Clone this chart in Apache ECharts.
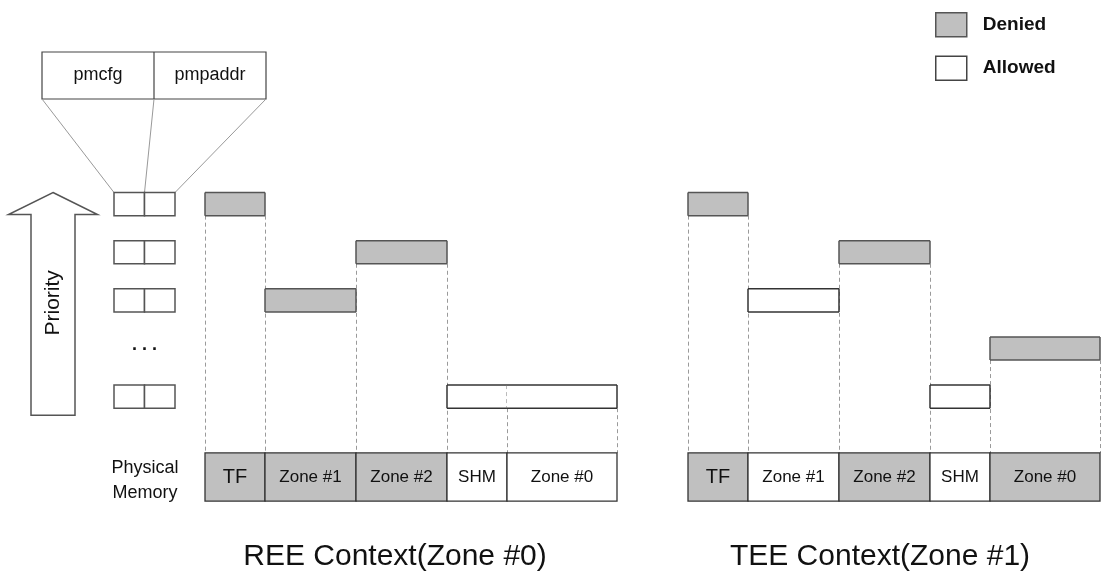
<!DOCTYPE html>
<html>
<head>
<meta charset="utf-8">
<script src="https://cdn.jsdelivr.net/npm/echarts@6/dist/echarts.min.js"></script>
<style>
html, body { margin: 0; padding: 0; background: #fff; }
#main { width: 1101px; height: 576px; }
</style>
</head>
<body>
<div id="main"></div>
<script>
// memory regions left to right, and their size on the memory axis
const regions = ['TF', 'Zone #1', 'Zone #2', 'SHM', 'Zone #0'];
const regionSize = [60, 91, 91, 60, 110];
// priority row of the pmp entry that covers each region, and its permission
const reeLevel = [0, 2, 1, 4, 4];
const reeAccess = ['Denied', 'Denied', 'Denied', 'Allowed', 'Allowed'];
const teeLevel = [0, 2, 1, 4, 3];
const teeAccess = ['Denied', 'Allowed', 'Denied', 'Allowed', 'Denied'];
// pmp entries on the left ('...' = the ones left out)
const pmpSlots = ['pmp0', 'pmp1', 'pmp2', '...', 'pmpN'];
const pmpFields = ['pmcfg', 'pmpaddr'];
const contexts = ['REE Context(Zone #0)', 'TEE Context(Zone #1)'];
const accessTypes = ['Denied', 'Allowed'];

// layout / style
const FONT = "'Liberation Sans', Arial, sans-serif";
const MEM_Y = 5.67, MEM_H = 1.0, BAR_H = 0.48;
const FILL = { Denied: '#c0c0c0', Allowed: '#ffffff' };
const EDGE = { Denied: '#555555', Allowed: '#333333' };

const edges = [0];
regionSize.forEach((s, i) => edges.push(edges[i] + s));
const total = edges[edges.length - 1];

function yAxisCfg(i) {
  return { type: 'value', gridIndex: i, min: -0.5, max: 6.5, inverse: true, show: false };
}

function contextSeries(c, levels, access) {
  const list = [];
  // dashed guides from the bars down to the memory row
  list.push({
    type: 'custom', name: 'guide' + c, xAxisIndex: c, yAxisIndex: c, z: 1, silent: true,
    data: edges.map((x, j) => [x, j]),
    renderItem(params, api) {
      const j = api.value(1);
      const adj = [j - 1, j].filter(k => k >= 0 && k < regions.length);
      const lv = Math.min.apply(null, adj.map(k => levels[k]));
      const h = api.size([0, BAR_H])[1];
      const mh = api.size([0, MEM_H])[1];
      const p = api.coord([api.value(0), lv]);
      const m = api.coord([api.value(0), MEM_Y]);
      const x = Math.round(p[0]) + 0.5;
      return {
        type: 'line',
        shape: { x1: x, y1: p[1] + h / 2, x2: x, y2: m[1] - mh / 2 },
        style: { stroke: '#9a9a9a', lineWidth: 1, lineDash: [4, 3] }
      };
    }
  });
  // pmp rule bars, one series per permission
  accessTypes.forEach(t => {
    list.push({
      type: 'custom', name: t, xAxisIndex: c, yAxisIndex: c, z: 2,
      itemStyle: { color: FILL[t], borderColor: EDGE[t], borderWidth: 1.5 },
      data: regions.map((r, i) => [i, edges[i], edges[i + 1], levels[i]])
        .filter(d => access[d[0]] === t),
      renderItem(params, api) {
        const i = api.value(0), lv = api.value(3);
        const p0 = api.coord([api.value(1), lv]);
        const p1 = api.coord([api.value(2), lv]);
        const h = api.size([0, BAR_H])[1];
        const top = p0[1] - h / 2, bot = p0[1] + h / 2;
        const n = regions.length;
        const mergeL = i > 0 && levels[i - 1] === lv && access[i - 1] === access[i];
        const mergeR = i < n - 1 && levels[i + 1] === lv && access[i + 1] === access[i];
        const solid = { stroke: EDGE[t], lineWidth: 1.5, fill: null };
        const kids = [
          { type: 'rect', shape: { x: p0[0], y: top, width: p1[0] - p0[0], height: h },
            style: { fill: FILL[t] } },
          { type: 'line', shape: { x1: p0[0], y1: top, x2: p1[0], y2: top }, style: solid },
          { type: 'line', shape: { x1: p0[0], y1: bot, x2: p1[0], y2: bot }, style: solid }
        ];
        if (!mergeL) kids.push({ type: 'line', shape: { x1: p0[0], y1: top, x2: p0[0], y2: bot }, style: solid });
        if (!mergeR) {
          kids.push({ type: 'line', shape: { x1: p1[0], y1: top, x2: p1[0], y2: bot }, style: solid });
        } else {
          kids.push({ type: 'line', shape: { x1: p1[0], y1: top, x2: p1[0], y2: bot },
            style: { stroke: '#777', lineWidth: 1, lineDash: [4, 3] } });
        }
        return { type: 'group', children: kids };
      }
    });
  });
  // physical memory row
  list.push({
    type: 'custom', name: 'memory' + c, xAxisIndex: c, yAxisIndex: c, z: 3, silent: true,
    data: regions.map((r, i) => [i, edges[i], edges[i + 1]]),
    renderItem(params, api) {
      const i = api.value(0);
      const p0 = api.coord([api.value(1), MEM_Y]);
      const p1 = api.coord([api.value(2), MEM_Y]);
      const h = api.size([0, MEM_H])[1];
      return {
        type: 'group',
        children: [
          { type: 'rect', shape: { x: p0[0], y: p0[1] - h / 2, width: p1[0] - p0[0], height: h },
            style: { fill: FILL[access[i]], stroke: '#333', lineWidth: 1.3 } },
          { type: 'text', style: {
              text: regions[i], x: (p0[0] + p1[0]) / 2, y: p0[1],
              align: 'center', verticalAlign: 'middle',
              font: (regions[i] === 'TF' ? '20px ' : '17px ') + FONT, fill: '#111' } }
        ]
      };
    }
  });
  return list;
}

const pmpSeries = {
  type: 'custom', name: 'pmp', xAxisIndex: 2, yAxisIndex: 2, z: 2, silent: true,
  data: pmpSlots.map((s, k) => [k]),
  renderItem(params, api) {
    const k = api.value(0);
    const h = api.size([0, BAR_H])[1];
    if (pmpSlots[k] === '...') {
      const c = api.coord([pmpFields.length / 2, k]);
      return { type: 'text', style: { text: '. . .', x: c[0], y: c[1] - 3, align: 'center',
        verticalAlign: 'middle', font: 'bold 18px ' + FONT, fill: '#111' } };
    }
    return {
      type: 'group',
      children: pmpFields.map((f, j) => {
        const a = api.coord([j, k]), b = api.coord([j + 1, k]);
        return { type: 'rect', shape: { x: a[0], y: a[1] - h / 2, width: b[0] - a[0], height: h },
          style: { fill: '#fff', stroke: '#555', lineWidth: 1.5 } };
      })
    };
  }
};

const chart = echarts.init(document.getElementById('main'));
chart.setOption({
  animation: false,
  backgroundColor: '#fff',
  grid: [
    { left: 205, width: total, top: 180, height: 337 },
    { left: 688, width: total, top: 180, height: 337 },
    { left: 114, width: 61, top: 180, height: 337 }
  ],
  xAxis: [
    { type: 'value', gridIndex: 0, min: 0, max: total, show: false },
    { type: 'value', gridIndex: 1, min: 0, max: total, show: false },
    { type: 'value', gridIndex: 2, min: 0, max: pmpFields.length, show: false }
  ],
  yAxis: [yAxisCfg(0), yAxisCfg(1), yAxisCfg(2)],
  legend: {
    orient: 'vertical', left: 930, top: 7, itemWidth: 31, itemHeight: 24, itemGap: 18,
    icon: 'rect', selectedMode: false,
    data: [
      { name: 'Denied', itemStyle: { color: FILL.Denied, borderColor: '#555', borderWidth: 1.5 } },
      { name: 'Allowed', itemStyle: { color: FILL.Allowed, borderColor: '#444', borderWidth: 1.5 } }
    ],
    textStyle: { fontFamily: FONT, fontSize: 19, fontWeight: 'bold', color: '#111', padding: [0, 0, 0, 11] }
  },
  series: [].concat(
    contextSeries(0, reeLevel, reeAccess),
    contextSeries(1, teeLevel, teeAccess),
    [pmpSeries]
  )
});

// decorations placed from the pmp axis
const rowTop = chart.convertToPixel({ gridIndex: 2 }, [0, 0 - BAR_H / 2]);
const rowBot = chart.convertToPixel({ gridIndex: 2 }, [0, pmpSlots.length - 1 + BAR_H / 2]);
const memMid = chart.convertToPixel({ gridIndex: 0 }, [0, MEM_Y]);
const fieldX = pmpFields.map((f, j) => chart.convertToPixel({ gridIndex: 2 }, [j, 0])[0])
  .concat([chart.convertToPixel({ gridIndex: 2 }, [pmpFields.length, 0])[0]]);

const ax = 53, tipY = rowTop[1], baseY = tipY + 22, endY = rowBot[1] + 7;
const box = { x: 42, y: 52, w: 224, h: 47 };
const graphic = [
  { type: 'polygon', shape: { points: [[ax, tipY], [ax + 44.5, baseY], [ax + 22, baseY], [ax + 22, endY],
      [ax - 22, endY], [ax - 22, baseY], [ax - 44.5, baseY]] },
    style: { fill: '#fff', stroke: '#555', lineWidth: 1.5 } },
  { type: 'text', x: ax, y: (baseY + endY) / 2 - 12, rotation: Math.PI / 2,
    style: { text: 'Priority', align: 'center', verticalAlign: 'middle', font: '21px ' + FONT, fill: '#111' } },
  { type: 'rect', shape: { x: box.x, y: box.y, width: box.w, height: box.h },
    style: { fill: '#fff', stroke: '#444', lineWidth: 1.2 } },
  { type: 'text', style: { text: 'Physical\nMemory', x: 145, y: memMid[1] + 3, align: 'center',
      verticalAlign: 'middle', lineHeight: 25, font: '18px ' + FONT, fill: '#111' } }
];
pmpFields.forEach((f, j) => {
  const w = box.w / pmpFields.length;
  const x0 = box.x + j * w;
  if (j > 0) graphic.push({ type: 'line', shape: { x1: x0, y1: box.y, x2: x0, y2: box.y + box.h },
    style: { stroke: '#444', lineWidth: 1.2 } });
  graphic.push({ type: 'text', style: { text: f, x: x0 + w / 2, y: box.y + box.h / 2, align: 'center',
    verticalAlign: 'middle', font: '18px ' + FONT, fill: '#111' } });
});
fieldX.forEach((x, j) => {
  graphic.push({ type: 'line', shape: { x1: box.x + j * box.w / pmpFields.length, y1: box.y + box.h, x2: x, y2: rowTop[1] },
    style: { stroke: '#999', lineWidth: 1 } });
});
[395, 880].forEach((cx, c) => {
  graphic.push({ type: 'text', style: { text: contexts[c], x: cx, y: 557, align: 'center',
    verticalAlign: 'middle', font: '30px ' + FONT, fill: '#111' } });
});
chart.setOption({ graphic: graphic });
</script>
</body>
</html>
